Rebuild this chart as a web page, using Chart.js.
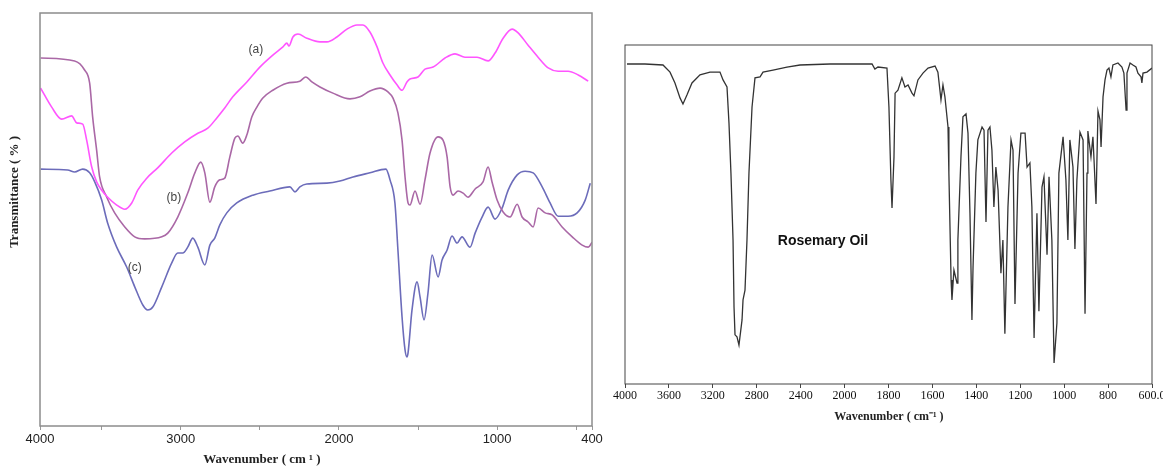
<!DOCTYPE html>
<html>
<head>
<meta charset="utf-8">
<script src="https://cdn.jsdelivr.net/npm/chart.js@4"></script>
<style>
  html, body { margin: 0; padding: 0; background: #fff; overflow: hidden; }
  #wrap { position: relative; width: 1163px; height: 466px; overflow: hidden; }
  #chart-left { position: absolute; left: 0; top: 0; }
  #chart-right { position: absolute; left: 605px; top: 0; }
</style>
</head>
<body>
<div id="wrap">
  <canvas id="chart-left" width="615" height="466"></canvas>
  <canvas id="chart-right" width="570" height="466"></canvas>
</div>
<script>
// left panel: three spectra (a), (b), (c) -- wavenumber (cm-1) / transmittance (arbitrary %)
const SPEC_A_WN = [3886, 3816, 3753, 3690, 3658, 3620, 3595, 3563, 3532, 3500, 3462, 3405, 3354, 3310, 3272, 3215, 3146, 3057, 2975, 2892,
    2829, 2772, 2722, 2671, 2582, 2500, 2418, 2354, 2329, 2316, 2291, 2259, 2203, 2120, 2076, 2013, 1949, 1886, 1848, 1804,
    1759, 1722, 1677, 1633, 1601, 1570, 1551, 1500, 1456, 1405, 1329, 1266, 1203, 1127, 1057, 1013, 962, 905, 867, 804,
    741, 677, 614, 551, 487, 424];
const SPEC_A_T = [81.8, 77.2, 74.3, 75.1, 73.4, 73.1, 69.2, 62.7, 59.1, 57.1, 55.4, 53.5, 52.5, 54.0, 57.1, 60.0, 62.5, 66.1, 68.8, 70.9,
    72.1, 74.6, 77.0, 79.7, 83.3, 86.9, 89.8, 91.8, 92.7, 92.0, 94.2, 94.9, 93.9, 93.0, 93.0, 94.2, 96.1, 97.1, 97.1, 95.4,
    91.8, 87.9, 85.0, 82.6, 81.3, 83.3, 84.0, 84.5, 86.4, 86.9, 89.1, 90.1, 89.3, 89.3, 88.4, 90.3, 93.9, 96.1, 95.2, 92.2,
    89.3, 86.7, 85.9, 85.9, 85.0, 83.5];

const SPEC_B_WN = [3886, 3671, 3608, 3576, 3557, 3532, 3513, 3468, 3418, 3354, 3291, 3228, 3120, 3082, 3019, 2956, 2911, 2873, 2848, 2816,
    2785, 2753, 2722, 2690, 2658, 2639, 2608, 2582, 2551, 2519, 2481, 2418, 2329, 2247, 2209, 2171, 2120, 2038, 1930, 1867,
    1804, 1740, 1690, 1658, 1627, 1601, 1582, 1563, 1551, 1519, 1487, 1456, 1424, 1373, 1342, 1316, 1297, 1278, 1247, 1215,
    1184, 1139, 1089, 1057, 1032, 1000, 962, 918, 873, 842, 804, 772, 741, 696, 652, 589, 525, 462, 424, 399];
const SPEC_B_T = [89.1, 88.4, 86.2, 83.0, 74.8, 66.8, 60.3, 55.4, 51.6, 48.2, 45.8, 45.3, 45.8, 46.7, 50.6, 56.4, 61.3, 63.9, 61.3, 54.2,
    57.9, 59.6, 60.0, 65.1, 69.7, 70.2, 68.5, 70.5, 74.8, 77.2, 79.4, 81.3, 83.0, 83.5, 84.5, 83.3, 82.1, 80.6, 79.2, 79.7,
    81.1, 81.8, 80.9, 79.4, 75.8, 69.2, 60.3, 54.0, 53.5, 56.9, 53.7, 59.6, 66.1, 70.0, 69.2, 65.1, 57.9, 55.9, 56.9, 56.4,
    55.4, 57.4, 59.1, 62.7, 59.1, 54.7, 51.8, 50.6, 53.7, 50.6, 49.4, 48.2, 52.8, 51.6, 51.1, 48.2, 45.8, 43.8, 43.3, 44.5];

const SPEC_C_WN = [3886, 3715, 3671, 3620, 3576, 3544, 3500, 3462, 3405, 3342, 3291, 3240, 3209, 3177, 3120, 3057, 3019, 2987, 2956, 2924,
    2892, 2848, 2816, 2785, 2753, 2709, 2646, 2544, 2437, 2310, 2278, 2247, 2203, 2076, 1994, 1911, 1804, 1703, 1677, 1646,
    1627, 1601, 1582, 1570, 1563, 1538, 1506, 1487, 1462, 1437, 1411, 1373, 1348, 1316, 1285, 1253, 1222, 1171, 1139, 1095,
    1057, 1013, 968, 930, 873, 823, 772, 715, 665, 614, 551, 494, 443, 411];
const SPEC_C_T = [62.2, 62.0, 61.5, 62.2, 61.3, 59.1, 54.7, 49.1, 43.3, 38.5, 33.7, 29.3, 28.1, 28.8, 33.7, 39.5, 41.9, 41.9, 43.3, 45.5,
    43.3, 39.0, 43.8, 45.5, 48.7, 51.6, 54.0, 55.9, 56.9, 57.9, 56.7, 57.9, 58.6, 58.8, 59.3, 60.3, 61.3, 62.2, 59.6, 54.0,
    42.6, 26.4, 18.4, 16.7, 17.7, 28.1, 34.9, 31.2, 25.7, 32.2, 41.4, 36.1, 40.2, 42.6, 46.0, 44.3, 45.8, 43.3, 46.7, 50.6,
    53.0, 50.1, 52.8, 57.1, 60.8, 61.7, 61.3, 57.9, 54.0, 50.8, 50.8, 51.6, 54.7, 58.8];

// right panel: rosemary oil
const ROSEMARY_WN = [3982, 3818, 3654, 3590, 3545, 3499, 3472, 3435, 3390, 3317, 3226, 3135, 3107, 3071, 3053, 3035, 3016, 3007, 2998, 2980,
    2962, 2934, 2925, 2907, 2889, 2871, 2843, 2816, 2770, 2743, 2652, 2525, 2406, 2133, 1875, 1862, 1848, 1807, 1798, 1789,
    1784, 1775, 1770, 1757, 1739, 1725, 1711, 1693, 1684, 1666, 1643, 1620, 1588, 1575, 1561, 1552, 1543, 1529, 1525, 1515,
    1511, 1502, 1488, 1484, 1470, 1461, 1447, 1438, 1429, 1420, 1415, 1402, 1393, 1374, 1365, 1356, 1347, 1338, 1329, 1320,
    1311, 1301, 1288, 1279, 1270, 1256, 1242, 1233, 1224, 1210, 1197, 1178, 1169, 1156, 1147, 1137, 1124, 1115, 1101, 1092,
    1078, 1069, 1056, 1046, 1033, 1024, 1005, 992, 983, 974, 960, 951, 942, 928, 914, 905, 896, 892, 878, 869,
    864, 855, 846, 837, 832, 823, 814, 805, 796, 787, 778, 755, 737, 728, 718, 714, 700, 687, 673, 664,
    650, 646, 641, 623, 600];
const ROSEMARY_T = [94.4, 94.4, 94.1, 92.0, 88.8, 84.4, 82.6, 85.3, 88.8, 91.2, 92.0, 92.0, 89.7, 87.6, 77.0, 62.2, 42.5, 22.7, 14.5, 13.9,
    11.5, 18.9, 24.8, 27.7, 42.5, 62.2, 81.7, 90.3, 90.6, 92.0, 92.6, 93.5, 94.1, 94.4, 94.4, 92.9, 93.5, 93.2, 81.7, 60.2,
    51.9, 67.0, 85.8, 86.7, 90.3, 87.6, 88.2, 85.8, 85.0, 89.7, 91.7, 93.2, 93.8, 92.0, 83.8, 88.2, 84.7, 75.8, 62.2, 30.7,
    24.8, 33.6, 29.8, 42.5, 67.0, 78.8, 79.7, 74.0, 50.4, 18.9, 34.5, 62.2, 72.0, 75.8, 74.9, 47.8, 74.9, 75.8, 69.0, 52.2,
    64.0, 57.2, 32.7, 42.5, 14.8, 52.2, 72.0, 69.0, 23.6, 62.2, 74.0, 74.0, 64.0, 65.2, 52.2, 13.6, 50.4, 21.5, 58.1, 61.1,
    38.1, 61.1, 42.5, 6.2, 18.0, 62.2, 72.9, 60.2, 42.5, 72.0, 64.0, 39.8, 60.2, 74.3, 72.0, 20.7, 62.2, 74.6, 67.0, 72.9,
    66.1, 53.1, 80.5, 77.9, 69.9, 84.7, 89.7, 92.6, 93.2, 90.6, 94.1, 94.7, 93.5, 91.7, 80.8, 91.7, 94.7, 94.1, 93.5, 91.7,
    90.6, 88.8, 91.7, 92.0, 93.2];

// tick labels as printed (left axis starts a bit short of 4000 but is labelled 4000)
const LEFT_TICK_VALUES = [3890, 3500, 3000, 2500, 2000, 1500, 1000, 500, 400];
const LEFT_TICK_LABELS = ['4000', '', '3000', '', '2000', '', '1000', '', '400'];
const RIGHT_TICK_VALUES = [4000, 3600, 3200, 2800, 2400, 2000, 1800, 1600, 1400, 1200, 1000, 800, 600];
const RIGHT_TICK_LABELS = ['4000', '3600', '3200', '2800', '2400', '2000', '1800', '1600', '1400', '1200', '1000', '800', '600.0'];

const SERIF = "'Liberation Serif', 'Times New Roman', serif";
const SANS = "'Liberation Sans', Arial, sans-serif";

const toPoints = (xs, ys) => xs.map((x, i) => ({ x, y: ys[i] }));

// IR spectra change scale at 2000 cm-1 (400 per division above, 200 below)
const BREAK_AT = 2000;
const LOW_SHARE = 7 / 12;
class BrokenWavenumberScale extends Chart.LinearScale {
    static id = 'irBreak';
    static defaults = {};
    toDecimal(v) {
        if (v <= BREAK_AT) return (v - this.min) / (BREAK_AT - this.min) * LOW_SHARE;
        return LOW_SHARE + (v - BREAK_AT) / (this.max - BREAK_AT) * (1 - LOW_SHARE);
    }
    getPixelForValue(value) {
        return this.getPixelForDecimal(this.toDecimal(value));
    }
    getValueForPixel(pixel) {
        const d = this.getDecimalForPixel(pixel);
        if (d <= LOW_SHARE) return this.min + d / LOW_SHARE * (BREAK_AT - this.min);
        return BREAK_AT + (d - LOW_SHARE) / (1 - LOW_SHARE) * (this.max - BREAK_AT);
    }
}
Chart.register(BrokenWavenumberScale);

function framePlugin(color, width) {
    return {
        id: 'frame',
        afterDraw(chart) {
            const { ctx, chartArea: a } = chart;
            ctx.save();
            ctx.strokeStyle = color;
            ctx.lineWidth = width;
            ctx.strokeRect(a.left, a.top, a.right - a.left, a.bottom - a.top);
            ctx.restore();
        }
    };
}

function notesPlugin(notes) {
    return {
        id: 'notes',
        afterDraw(chart) {
            const { ctx, scales } = chart;
            notes.forEach(n => {
                const px = scales.x.getPixelForValue(n.x);
                const py = scales.y.getPixelForValue(n.y);
                ctx.save();
                ctx.translate(px, py);
                if (n.rotate) ctx.rotate(n.rotate);
                ctx.font = n.font;
                ctx.fillStyle = n.color;
                ctx.textAlign = 'center';
                ctx.textBaseline = 'middle';
                ctx.fillText(n.text, 0, 0);
                ctx.restore();
            });
        }
    };
}

const LEFT_NOTES = [
    { text: '(a)', x: 2525, y: 91.0, font: `12px ${SANS}`, color: '#444' },
    { text: '(b)', x: 3044, y: 55.2, font: `12px ${SANS}`, color: '#444' },
    { text: '(c)', x: 3291, y: 38.3, font: `12px ${SANS}`, color: '#444' },
    { text: 'Transmittance ( % )', x: 4051, y: 56.7, rotate: -Math.PI / 2, font: `bold 13px ${SERIF}`, color: '#222' },
    { text: 'Wavenumber ( cm ¹ )', x: 2487, y: -8.2, font: `bold 13px ${SERIF}`, color: '#222' }
];
const RIGHT_NOTES = [
    { text: 'Rosemary Oil', x: 2197, y: 42.2, font: `bold 14px ${SANS}`, color: '#111' },
    { text: 'Wavenumber ( cm⁻¹ )', x: 1798, y: -9.7, font: `bold 12px ${SERIF}`, color: '#222' }
];

function spectrum(label, xs, ys, color, width, smooth) {
    return {
        label, data: toPoints(xs, ys), borderColor: color, borderWidth: width,
        pointRadius: 0, fill: false,
        cubicInterpolationMode: smooth ? 'monotone' : 'default', tension: 0
    };
}

document.addEventListener('DOMContentLoaded', () => {
    new Chart(document.getElementById('chart-left'), {
        type: 'line',
        data: {
            datasets: [
                spectrum('(a)', SPEC_A_WN, SPEC_A_T, '#ff55ff', 1.6, true),
                spectrum('(b)', SPEC_B_WN, SPEC_B_T, '#aa68a6', 1.6, true),
                spectrum('(c)', SPEC_C_WN, SPEC_C_T, '#6c6cba', 1.6, true)
            ]
        },
        options: {
            responsive: false, animation: false,
            layout: { padding: { left: 0, top: 13, right: 23, bottom: 0 } },
            plugins: { legend: { display: false }, tooltip: { enabled: false } },
            scales: {
                x: {
                    type: 'linear', reverse: true, min: 400, max: 3890,
                    afterBuildTicks: s => { s.ticks = LEFT_TICK_VALUES.map(v => ({ value: v })); },
                    afterFit: s => { s.height = 40; },
                    grid: { display: true, drawOnChartArea: false, tickLength: 4, color: '#999' },
                    border: { display: false },
                    ticks: {
                        autoSkip: false, maxRotation: 0, padding: 2,
                        font: { family: SANS, size: 13 }, color: '#222',
                        callback: (v, i) => LEFT_TICK_LABELS[i]
                    }
                },
                y: {
                    min: 0, max: 100,
                    afterFit: s => { s.width = 40; },
                    grid: { display: false }, border: { display: false },
                    ticks: { display: false }
                }
            }
        },
        plugins: [framePlugin('#8c8c8c', 1.5), notesPlugin(LEFT_NOTES)]
    });

    new Chart(document.getElementById('chart-right'), {
        type: 'line',
        data: { datasets: [spectrum('Rosemary Oil', ROSEMARY_WN, ROSEMARY_T, '#333', 1.3, false)] },
        options: {
            responsive: false, animation: false,
            layout: { padding: { left: 20, top: 45, right: 23, bottom: 0 } },
            plugins: { legend: { display: false }, tooltip: { enabled: false } },
            scales: {
                x: {
                    type: 'irBreak', reverse: true, min: 600, max: 4000,
                    afterBuildTicks: s => { s.ticks = RIGHT_TICK_VALUES.map(v => ({ value: v })); },
                    afterFit: s => { s.height = 82; },
                    grid: { display: true, drawOnChartArea: false, tickLength: 4, color: '#444' },
                    border: { display: false },
                    ticks: {
                        autoSkip: false, maxRotation: 0, padding: 1,
                        font: { family: SERIF, size: 12 }, color: '#111',
                        callback: (v, i) => RIGHT_TICK_LABELS[i]
                    }
                },
                y: { min: 0, max: 100, display: false }
            }
        },
        plugins: [framePlugin('#444', 1), notesPlugin(RIGHT_NOTES)]
    });
});
</script>
</body>
</html>
